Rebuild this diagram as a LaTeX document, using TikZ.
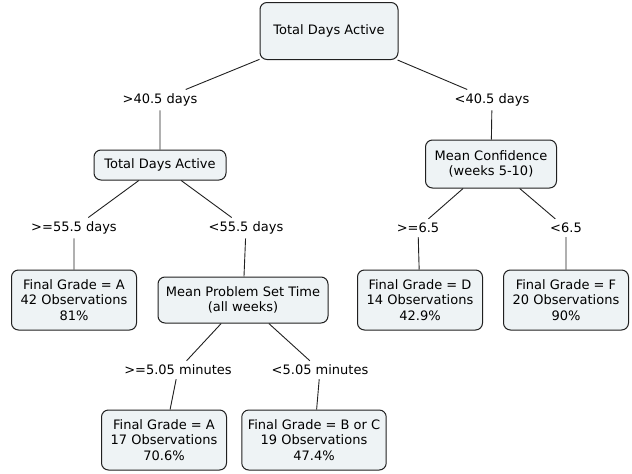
\documentclass[tikz,border=0pt]{standalone}
\usepackage{fontspec}
\setmainfont{DejaVu Sans}
\definecolor{boxfill}{HTML}{EEF3F5}
\definecolor{linegray}{HTML}{202020}
\tikzset{
    treebox/.style={draw=linegray, fill=boxfill, rounded corners=7pt, align=center,
        line width=1pt, inner xsep=6pt, inner ysep=4pt, font=\fontsize{13}{15.5}\selectfont},
    leafbox/.style={treebox, minimum width=125pt, minimum height=60pt},
    cond/.style={align=center, inner sep=4pt, font=\fontsize{13}{15.5}\selectfont},
    branch/.style={draw=linegray, line width=0.9pt}
}
\begin{document}
\begin{tikzpicture}[x=1pt, y=-1pt]
                \useasboundingbox (0,0) rectangle (632,474);
                % decision nodes
                \node [treebox, minimum width=138pt, minimum height=57pt] (root) at (329,31) {Total Days Active};
                \node [treebox, minimum width=132pt, minimum height=30pt] (days) at (160,165) {Total Days Active};
                \node [treebox, minimum width=131pt, minimum height=48pt] (conf) at (491,164) {Mean Confidence\\(weeks 5-10)};
                \node [treebox, minimum width=170pt, minimum height=46pt] (pset) at (243,300) {Mean Problem Set Time\\(all weeks)};
                % leaves
                \node [leafbox] (gradeA) at (74,300) {Final Grade = A\\42 Observations\\81\%};
                \node [leafbox] (gradeD) at (420,300) {Final Grade = D\\14 Observations\\42.9\%};
                \node [leafbox] (gradeF) at (566,300) {Final Grade = F\\20 Observations\\90\%};
                \node [leafbox] (gradeAb) at (164,440) {Final Grade = A\\17 Observations\\70.6\%};
                \node [leafbox, minimum width=131pt] (gradeBC) at (314,440) {Final Grade = B or C\\19 Observations\\47.4\%};
                % branch labels
                \node [cond] (gt405) at (160,100) {>40.5 days};
                \node [cond] (lt405) at (492,100) {<40.5 days};
                \node [cond] (ge555) at (74,228) {>=55.5 days};
                \node [cond] (lt555) at (246,228) {<55.5 days};
                \node [cond] (ge65) at (418,228) {>=6.5};
                \node [cond] (lt65) at (566,228) {<6.5};
                \node [cond] (ge505) at (178,370) {>=5.05 minutes};
                \node [cond] (lt505) at (320,370) {<5.05 minutes};
                % connectors
                \draw [branch] (root) -- (gt405) -- (days);
                \draw [branch] (root) -- (lt405) -- (conf);
                \draw [branch] (days) -- (ge555) -- (gradeA);
                \draw [branch] (days) -- (lt555) -- (pset);
                \draw [branch] (conf) -- (ge65) -- (gradeD);
                \draw [branch] (conf) -- (lt65) -- (gradeF);
                \draw [branch] (pset) -- (ge505) -- (gradeAb);
                \draw [branch] (pset) -- (lt505) -- (gradeBC);
            \end{tikzpicture}
\end{document}
